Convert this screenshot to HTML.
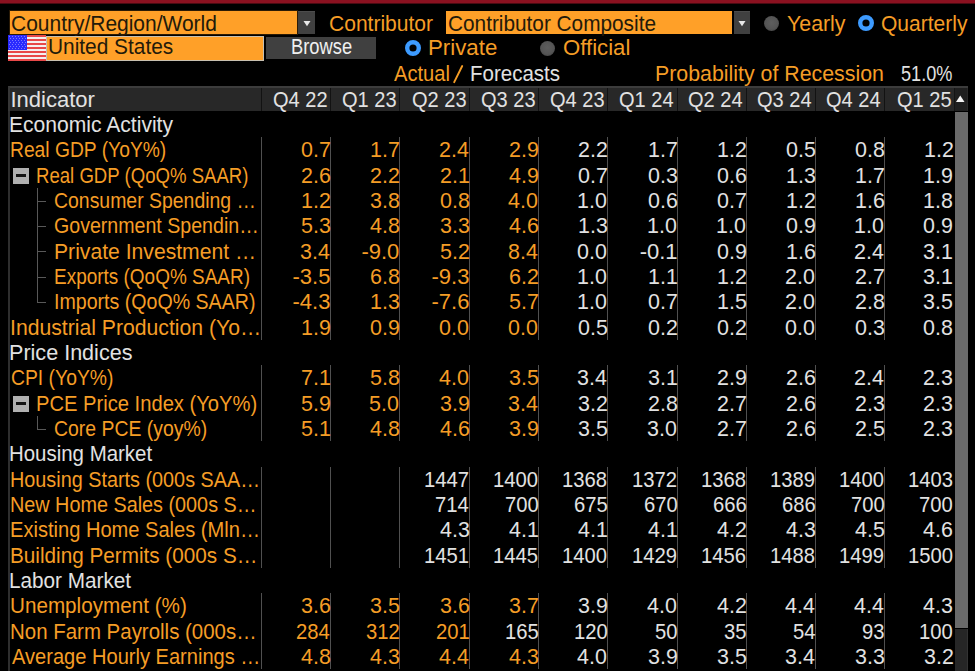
<!DOCTYPE html>
<html><head><meta charset="utf-8"><style>
html,body{margin:0;padding:0;background:#000;width:975px;height:671px;overflow:hidden}
body{position:relative;font-family:"Liberation Sans",sans-serif}
.t{position:absolute;white-space:pre;line-height:1;transform-origin:0 0}
.r{position:absolute}
</style></head><body>
<div class="r" style="left:0px;top:0px;width:975px;height:3px;background:#8a1120"></div>
<div class="r" style="left:0px;top:3px;width:975px;height:1px;background:#4a0a12"></div>
<div class="r" style="left:10px;top:11px;width:287px;height:23px;background:#ffa028;box-shadow:0 0 0 1px #2a1a05"></div>
<div class="t" style="left:11.45px;top:13.00px;font-size:22px;color:#231a0a;transform:scaleX(0.9531);">Country/Region/World</div>
<div class="r" style="left:298px;top:11px;width:17px;height:23px;background:#404040;border-top:1px solid #4c4c4c;box-sizing:border-box"></div>
<svg class="r" style="left:302px;top:19px" width="10" height="8"><path d="M1.5 2 L8.5 2 L5 7.3 Z" fill="#e8e8e8"/></svg>
<div class="t" style="left:328.95px;top:13.00px;font-size:22px;color:#f59d26;transform:scaleX(0.9557);">Contributor</div>
<div class="r" style="left:446px;top:11px;width:286px;height:23px;background:#ffa028"></div>
<div class="t" style="left:447.96px;top:13.00px;font-size:22px;color:#231a0a;transform:scaleX(0.9449);">Contributor Composite</div>
<div class="r" style="left:734px;top:11px;width:16px;height:23px;background:#404040;border-top:1px solid #4c4c4c;box-sizing:border-box"></div>
<svg class="r" style="left:737px;top:19px" width="10" height="8"><path d="M1.5 2 L8.5 2 L5 7.3 Z" fill="#e8e8e8"/></svg>
<div class="r" style="left:764px;top:16px;width:15px;height:15px;border-radius:50%;background:radial-gradient(circle at 50% 45%,#5e5e5e 0,#555 55%,#3a3a3a 100%)"></div>
<div class="t" style="left:787.47px;top:13.00px;font-size:22px;color:#f59d26;transform:scaleX(0.9693);">Yearly</div>
<svg class="r" style="left:858px;top:15px" width="16" height="16"><circle cx="8" cy="8" r="5.8" fill="none" stroke="#3d9bff" stroke-width="4.4"/></svg>
<div class="t" style="left:880.55px;top:13.00px;font-size:22px;color:#f59d26;transform:scaleX(0.9561);">Quarterly</div>
<svg class="r" style="left:8px;top:35px" width="38" height="26"><rect x="0" y="0" width="38" height="2" fill="#e84848"/><rect x="0" y="2" width="38" height="2" fill="#f4f0f0"/><rect x="0" y="4" width="38" height="2" fill="#e84848"/><rect x="0" y="6" width="38" height="2" fill="#f4f0f0"/><rect x="0" y="8" width="38" height="2" fill="#e84848"/><rect x="0" y="10" width="38" height="2" fill="#f4f0f0"/><rect x="0" y="12" width="38" height="2" fill="#e84848"/><rect x="0" y="14" width="38" height="2" fill="#f4f0f0"/><rect x="0" y="16" width="38" height="2" fill="#e84848"/><rect x="0" y="18" width="38" height="2" fill="#f4f0f0"/><rect x="0" y="20" width="38" height="2" fill="#e84848"/><rect x="0" y="22" width="38" height="2" fill="#f4f0f0"/><rect x="0" y="24" width="38" height="2" fill="#e84848"/><rect x="0" y="0" width="19" height="15" fill="#2a2aff"/><rect x="1" y="1" width="1" height="1" fill="#7a7aff"/><rect x="4" y="1" width="1" height="1" fill="#7a7aff"/><rect x="7" y="1" width="1" height="1" fill="#7a7aff"/><rect x="10" y="1" width="1" height="1" fill="#7a7aff"/><rect x="13" y="1" width="1" height="1" fill="#7a7aff"/><rect x="16" y="1" width="1" height="1" fill="#7a7aff"/><rect x="2" y="3" width="1" height="1" fill="#7a7aff"/><rect x="5" y="3" width="1" height="1" fill="#7a7aff"/><rect x="8" y="3" width="1" height="1" fill="#7a7aff"/><rect x="11" y="3" width="1" height="1" fill="#7a7aff"/><rect x="14" y="3" width="1" height="1" fill="#7a7aff"/><rect x="17" y="3" width="1" height="1" fill="#7a7aff"/><rect x="1" y="5" width="1" height="1" fill="#7a7aff"/><rect x="4" y="5" width="1" height="1" fill="#7a7aff"/><rect x="7" y="5" width="1" height="1" fill="#7a7aff"/><rect x="10" y="5" width="1" height="1" fill="#7a7aff"/><rect x="13" y="5" width="1" height="1" fill="#7a7aff"/><rect x="16" y="5" width="1" height="1" fill="#7a7aff"/><rect x="2" y="7" width="1" height="1" fill="#7a7aff"/><rect x="5" y="7" width="1" height="1" fill="#7a7aff"/><rect x="8" y="7" width="1" height="1" fill="#7a7aff"/><rect x="11" y="7" width="1" height="1" fill="#7a7aff"/><rect x="14" y="7" width="1" height="1" fill="#7a7aff"/><rect x="17" y="7" width="1" height="1" fill="#7a7aff"/><rect x="1" y="9" width="1" height="1" fill="#7a7aff"/><rect x="4" y="9" width="1" height="1" fill="#7a7aff"/><rect x="7" y="9" width="1" height="1" fill="#7a7aff"/><rect x="10" y="9" width="1" height="1" fill="#7a7aff"/><rect x="13" y="9" width="1" height="1" fill="#7a7aff"/><rect x="16" y="9" width="1" height="1" fill="#7a7aff"/><rect x="2" y="11" width="1" height="1" fill="#7a7aff"/><rect x="5" y="11" width="1" height="1" fill="#7a7aff"/><rect x="8" y="11" width="1" height="1" fill="#7a7aff"/><rect x="11" y="11" width="1" height="1" fill="#7a7aff"/><rect x="14" y="11" width="1" height="1" fill="#7a7aff"/><rect x="17" y="11" width="1" height="1" fill="#7a7aff"/><rect x="1" y="13" width="1" height="1" fill="#7a7aff"/><rect x="4" y="13" width="1" height="1" fill="#7a7aff"/><rect x="7" y="13" width="1" height="1" fill="#7a7aff"/><rect x="10" y="13" width="1" height="1" fill="#7a7aff"/><rect x="13" y="13" width="1" height="1" fill="#7a7aff"/><rect x="16" y="13" width="1" height="1" fill="#7a7aff"/></svg>
<div class="r" style="left:46px;top:36px;width:218px;height:25px;background:#ffa028;box-shadow:inset 0 0 0 1px #c8c0b0"></div>
<div class="t" style="left:48.44px;top:36.00px;font-size:22px;color:#231a0a;transform:scaleX(0.9484);">United States</div>
<div class="r" style="left:266px;top:37px;width:110px;height:22px;background:#404040"></div>
<div class="t" style="left:290.53px;top:36.00px;font-size:22px;color:#f0f0f0;transform:scaleX(0.8326);">Browse</div>
<svg class="r" style="left:405px;top:40px" width="16" height="16"><circle cx="8" cy="8" r="5.8" fill="none" stroke="#3d9bff" stroke-width="4.4"/></svg>
<div class="t" style="left:427.72px;top:37.00px;font-size:22px;color:#f59d26;transform:scaleX(1.0126);">Private</div>
<div class="r" style="left:540px;top:41px;width:15px;height:15px;border-radius:50%;background:radial-gradient(circle at 50% 45%,#5e5e5e 0,#555 55%,#3a3a3a 100%)"></div>
<div class="t" style="left:563.00px;top:37.00px;font-size:22px;color:#f59d26;transform:scaleX(1.0070);">Official</div>
<div class="t" style="left:394.20px;top:63.00px;font-size:22px;color:#f59d26;transform:scaleX(0.9141);">Actual</div>
<svg class="r" style="left:450px;top:62px" width="16" height="24"><line x1="4.2" y1="20.2" x2="12.2" y2="4" stroke="#f59d26" stroke-width="1.9" stroke-linecap="round"/></svg>
<div class="t" style="left:469.66px;top:63.00px;font-size:22px;color:#e2e2e2;transform:scaleX(0.9325);">Forecasts</div>
<div class="t" style="left:655.29px;top:63.00px;font-size:22px;color:#f59d26;transform:scaleX(0.9697);">Probability of Recession</div>
<div class="t" style="left:901.28px;top:63.00px;font-size:22px;color:#e2e2e2;transform:scaleX(0.8235);">51.0%</div>
<div class="r" style="left:8px;top:86px;width:960px;height:25px;background:#282828;border-top:2px solid #3c3c3c;border-left:2px solid #363636;box-sizing:border-box"></div>
<div class="t" style="left:10.51px;top:89.00px;font-size:22px;color:#e2e2e2;">Indicator</div>
<div class="r" style="left:261px;top:88px;width:1px;height:23px;background:#121212"></div>
<div class="r" style="left:330px;top:88px;width:1px;height:23px;background:#121212"></div>
<div class="r" style="left:399px;top:88px;width:1px;height:23px;background:#121212"></div>
<div class="r" style="left:469px;top:88px;width:1px;height:23px;background:#121212"></div>
<div class="r" style="left:538px;top:88px;width:1px;height:23px;background:#121212"></div>
<div class="r" style="left:607px;top:88px;width:1px;height:23px;background:#121212"></div>
<div class="r" style="left:677px;top:88px;width:1px;height:23px;background:#121212"></div>
<div class="r" style="left:746px;top:88px;width:1px;height:23px;background:#121212"></div>
<div class="r" style="left:815px;top:88px;width:1px;height:23px;background:#121212"></div>
<div class="r" style="left:884px;top:88px;width:1px;height:23px;background:#121212"></div>
<div class="t" style="left:272.95px;top:89.00px;font-size:22px;color:#e2e2e2;transform:scaleX(0.9100);">Q4 22</div>
<div class="t" style="left:341.75px;top:89.00px;font-size:22px;color:#e2e2e2;transform:scaleX(0.9100);">Q1 23</div>
<div class="t" style="left:411.75px;top:89.00px;font-size:22px;color:#e2e2e2;transform:scaleX(0.9100);">Q2 23</div>
<div class="t" style="left:480.75px;top:89.00px;font-size:22px;color:#e2e2e2;transform:scaleX(0.9100);">Q3 23</div>
<div class="t" style="left:549.75px;top:89.00px;font-size:22px;color:#e2e2e2;transform:scaleX(0.9100);">Q4 23</div>
<div class="t" style="left:619.45px;top:89.00px;font-size:22px;color:#e2e2e2;transform:scaleX(0.9100);">Q1 24</div>
<div class="t" style="left:688.45px;top:89.00px;font-size:22px;color:#e2e2e2;transform:scaleX(0.9100);">Q2 24</div>
<div class="t" style="left:757.45px;top:89.00px;font-size:22px;color:#e2e2e2;transform:scaleX(0.9100);">Q3 24</div>
<div class="t" style="left:826.45px;top:89.00px;font-size:22px;color:#e2e2e2;transform:scaleX(0.9100);">Q4 24</div>
<div class="t" style="left:896.75px;top:89.00px;font-size:22px;color:#e2e2e2;transform:scaleX(0.9100);">Q1 25</div>
<div class="r" style="left:954px;top:88px;width:13px;height:23px;background:#1f1f1f;border-left:1px solid #141414;box-sizing:border-box"></div>
<svg class="r" style="left:954px;top:92px" width="13" height="14"><path d="M2 10 L10.5 10 L6.25 3.5 Z" fill="#f4f4f4"/></svg>
<div class="r" style="left:955px;top:112px;width:13px;height:516px;background:#6a6a6a"></div>
<div class="r" style="left:955px;top:629px;width:13px;height:42px;background:#262626;border-right:1px solid #333;box-sizing:border-box"></div>
<div class="r" style="left:8px;top:111px;width:2px;height:560px;background:#2e2e2e"></div>
<div class="r" style="left:330px;top:137px;width:1px;height:203px;background:#505050"></div>
<div class="r" style="left:399px;top:137px;width:1px;height:203px;background:#505050"></div>
<div class="r" style="left:469px;top:137px;width:1px;height:203px;background:#505050"></div>
<div class="r" style="left:538px;top:137px;width:1px;height:203px;background:#505050"></div>
<div class="r" style="left:607px;top:137px;width:1px;height:203px;background:#505050"></div>
<div class="r" style="left:677px;top:137px;width:1px;height:203px;background:#505050"></div>
<div class="r" style="left:746px;top:137px;width:1px;height:203px;background:#505050"></div>
<div class="r" style="left:815px;top:137px;width:1px;height:203px;background:#505050"></div>
<div class="r" style="left:884px;top:137px;width:1px;height:203px;background:#505050"></div>
<div class="r" style="left:261px;top:137px;width:1px;height:203px;background:#505050"></div>
<div class="r" style="left:330px;top:365px;width:1px;height:76px;background:#505050"></div>
<div class="r" style="left:399px;top:365px;width:1px;height:76px;background:#505050"></div>
<div class="r" style="left:469px;top:365px;width:1px;height:76px;background:#505050"></div>
<div class="r" style="left:538px;top:365px;width:1px;height:76px;background:#505050"></div>
<div class="r" style="left:607px;top:365px;width:1px;height:76px;background:#505050"></div>
<div class="r" style="left:677px;top:365px;width:1px;height:76px;background:#505050"></div>
<div class="r" style="left:746px;top:365px;width:1px;height:76px;background:#505050"></div>
<div class="r" style="left:815px;top:365px;width:1px;height:76px;background:#505050"></div>
<div class="r" style="left:884px;top:365px;width:1px;height:76px;background:#505050"></div>
<div class="r" style="left:261px;top:365px;width:1px;height:76px;background:#505050"></div>
<div class="r" style="left:330px;top:467px;width:1px;height:101px;background:#505050"></div>
<div class="r" style="left:399px;top:467px;width:1px;height:101px;background:#505050"></div>
<div class="r" style="left:469px;top:467px;width:1px;height:101px;background:#505050"></div>
<div class="r" style="left:538px;top:467px;width:1px;height:101px;background:#505050"></div>
<div class="r" style="left:607px;top:467px;width:1px;height:101px;background:#505050"></div>
<div class="r" style="left:677px;top:467px;width:1px;height:101px;background:#505050"></div>
<div class="r" style="left:746px;top:467px;width:1px;height:101px;background:#505050"></div>
<div class="r" style="left:815px;top:467px;width:1px;height:101px;background:#505050"></div>
<div class="r" style="left:884px;top:467px;width:1px;height:101px;background:#505050"></div>
<div class="r" style="left:261px;top:467px;width:1px;height:101px;background:#505050"></div>
<div class="r" style="left:330px;top:593px;width:1px;height:76px;background:#505050"></div>
<div class="r" style="left:399px;top:593px;width:1px;height:76px;background:#505050"></div>
<div class="r" style="left:469px;top:593px;width:1px;height:76px;background:#505050"></div>
<div class="r" style="left:538px;top:593px;width:1px;height:76px;background:#505050"></div>
<div class="r" style="left:607px;top:593px;width:1px;height:76px;background:#505050"></div>
<div class="r" style="left:677px;top:593px;width:1px;height:76px;background:#505050"></div>
<div class="r" style="left:746px;top:593px;width:1px;height:76px;background:#505050"></div>
<div class="r" style="left:815px;top:593px;width:1px;height:76px;background:#505050"></div>
<div class="r" style="left:884px;top:593px;width:1px;height:76px;background:#505050"></div>
<div class="r" style="left:261px;top:593px;width:1px;height:76px;background:#505050"></div>
<div class="t" style="left:9.31px;top:114.00px;font-size:22px;color:#e2e2e2;transform:scaleX(0.9581);">Economic Activity</div>
<div class="t" style="left:9.96px;top:139.00px;font-size:22px;color:#f59d26;transform:scaleX(0.8754);">Real GDP (YoY%)</div>
<div class="t" style="left:300.76px;top:139.00px;font-size:22px;color:#f59d26;transform:scaleX(0.9750);">0.7</div>
<div class="t" style="left:369.76px;top:139.00px;font-size:22px;color:#f59d26;transform:scaleX(0.9750);">1.7</div>
<div class="t" style="left:439.22px;top:139.00px;font-size:22px;color:#f59d26;transform:scaleX(0.9750);">2.4</div>
<div class="t" style="left:508.65px;top:139.00px;font-size:22px;color:#f59d26;transform:scaleX(0.9750);">2.9</div>
<div class="t" style="left:577.76px;top:139.00px;font-size:22px;color:#e2e2e2;transform:scaleX(0.9750);">2.2</div>
<div class="t" style="left:647.76px;top:139.00px;font-size:22px;color:#e2e2e2;transform:scaleX(0.9750);">1.7</div>
<div class="t" style="left:716.76px;top:139.00px;font-size:22px;color:#e2e2e2;transform:scaleX(0.9750);">1.2</div>
<div class="t" style="left:785.54px;top:139.00px;font-size:22px;color:#e2e2e2;transform:scaleX(0.9750);">0.5</div>
<div class="t" style="left:854.54px;top:139.00px;font-size:22px;color:#e2e2e2;transform:scaleX(0.9750);">0.8</div>
<div class="t" style="left:923.56px;top:139.00px;font-size:22px;color:#e2e2e2;transform:scaleX(0.9750);">1.2</div>
<div class="r" style="left:13px;top:168px;width:16px;height:16px;background:#b0b0b0"></div>
<div class="r" style="left:16px;top:174px;width:10px;height:3px;background:#141414"></div>
<div class="t" style="left:35.71px;top:165.00px;font-size:22px;color:#f59d26;transform:scaleX(0.8450);">Real GDP (QoQ% SAAR)</div>
<div class="t" style="left:300.54px;top:165.00px;font-size:22px;color:#f59d26;transform:scaleX(0.9750);">2.6</div>
<div class="t" style="left:369.76px;top:165.00px;font-size:22px;color:#f59d26;transform:scaleX(0.9750);">2.2</div>
<div class="t" style="left:439.65px;top:165.00px;font-size:22px;color:#f59d26;transform:scaleX(0.9750);">2.1</div>
<div class="t" style="left:508.65px;top:165.00px;font-size:22px;color:#f59d26;transform:scaleX(0.9750);">4.9</div>
<div class="t" style="left:577.76px;top:165.00px;font-size:22px;color:#e2e2e2;transform:scaleX(0.9750);">0.7</div>
<div class="t" style="left:647.54px;top:165.00px;font-size:22px;color:#e2e2e2;transform:scaleX(0.9750);">0.3</div>
<div class="t" style="left:716.54px;top:165.00px;font-size:22px;color:#e2e2e2;transform:scaleX(0.9750);">0.6</div>
<div class="t" style="left:785.54px;top:165.00px;font-size:22px;color:#e2e2e2;transform:scaleX(0.9750);">1.3</div>
<div class="t" style="left:854.76px;top:165.00px;font-size:22px;color:#e2e2e2;transform:scaleX(0.9750);">1.7</div>
<div class="t" style="left:923.45px;top:165.00px;font-size:22px;color:#e2e2e2;transform:scaleX(0.9750);">1.9</div>
<div class="r" style="left:37px;top:188px;width:1px;height:115px;background:#585858"></div>
<div class="r" style="left:37px;top:201px;width:9px;height:1px;background:#585858"></div>
<div class="t" style="left:54.43px;top:190.00px;font-size:22px;color:#f59d26;transform:scaleX(0.8833);">Consumer Spending …</div>
<div class="t" style="left:300.76px;top:190.00px;font-size:22px;color:#f59d26;transform:scaleX(0.9750);">1.2</div>
<div class="t" style="left:369.54px;top:190.00px;font-size:22px;color:#f59d26;transform:scaleX(0.9750);">3.8</div>
<div class="t" style="left:439.54px;top:190.00px;font-size:22px;color:#f59d26;transform:scaleX(0.9750);">0.8</div>
<div class="t" style="left:508.44px;top:190.00px;font-size:22px;color:#f59d26;transform:scaleX(0.9750);">4.0</div>
<div class="t" style="left:577.44px;top:190.00px;font-size:22px;color:#e2e2e2;transform:scaleX(0.9750);">1.0</div>
<div class="t" style="left:647.54px;top:190.00px;font-size:22px;color:#e2e2e2;transform:scaleX(0.9750);">0.6</div>
<div class="t" style="left:716.76px;top:190.00px;font-size:22px;color:#e2e2e2;transform:scaleX(0.9750);">0.7</div>
<div class="t" style="left:785.76px;top:190.00px;font-size:22px;color:#e2e2e2;transform:scaleX(0.9750);">1.2</div>
<div class="t" style="left:854.54px;top:190.00px;font-size:22px;color:#e2e2e2;transform:scaleX(0.9750);">1.6</div>
<div class="t" style="left:923.34px;top:190.00px;font-size:22px;color:#e2e2e2;transform:scaleX(0.9750);">1.8</div>
<div class="r" style="left:37px;top:226px;width:9px;height:1px;background:#585858"></div>
<div class="t" style="left:54.42px;top:215.00px;font-size:22px;color:#f59d26;transform:scaleX(0.8905);">Government Spendin…</div>
<div class="t" style="left:300.54px;top:215.00px;font-size:22px;color:#f59d26;transform:scaleX(0.9750);">5.3</div>
<div class="t" style="left:369.54px;top:215.00px;font-size:22px;color:#f59d26;transform:scaleX(0.9750);">4.8</div>
<div class="t" style="left:439.54px;top:215.00px;font-size:22px;color:#f59d26;transform:scaleX(0.9750);">3.3</div>
<div class="t" style="left:508.54px;top:215.00px;font-size:22px;color:#f59d26;transform:scaleX(0.9750);">4.6</div>
<div class="t" style="left:577.54px;top:215.00px;font-size:22px;color:#e2e2e2;transform:scaleX(0.9750);">1.3</div>
<div class="t" style="left:647.44px;top:215.00px;font-size:22px;color:#e2e2e2;transform:scaleX(0.9750);">1.0</div>
<div class="t" style="left:716.44px;top:215.00px;font-size:22px;color:#e2e2e2;transform:scaleX(0.9750);">1.0</div>
<div class="t" style="left:785.65px;top:215.00px;font-size:22px;color:#e2e2e2;transform:scaleX(0.9750);">0.9</div>
<div class="t" style="left:854.44px;top:215.00px;font-size:22px;color:#e2e2e2;transform:scaleX(0.9750);">1.0</div>
<div class="t" style="left:923.45px;top:215.00px;font-size:22px;color:#e2e2e2;transform:scaleX(0.9750);">0.9</div>
<div class="r" style="left:37px;top:251px;width:9px;height:1px;background:#585858"></div>
<div class="t" style="left:53.71px;top:241.00px;font-size:22px;color:#f59d26;transform:scaleX(0.9611);">Private Investment …</div>
<div class="t" style="left:300.22px;top:241.00px;font-size:22px;color:#f59d26;transform:scaleX(0.9750);">3.4</div>
<div class="t" style="left:361.43px;top:241.00px;font-size:22px;color:#f59d26;">-9.0</div>
<div class="t" style="left:439.76px;top:241.00px;font-size:22px;color:#f59d26;transform:scaleX(0.9750);">5.2</div>
<div class="t" style="left:508.22px;top:241.00px;font-size:22px;color:#f59d26;transform:scaleX(0.9750);">8.4</div>
<div class="t" style="left:577.44px;top:241.00px;font-size:22px;color:#e2e2e2;transform:scaleX(0.9750);">0.0</div>
<div class="t" style="left:639.65px;top:241.00px;font-size:22px;color:#e2e2e2;">-0.1</div>
<div class="t" style="left:716.65px;top:241.00px;font-size:22px;color:#e2e2e2;transform:scaleX(0.9750);">0.9</div>
<div class="t" style="left:785.54px;top:241.00px;font-size:22px;color:#e2e2e2;transform:scaleX(0.9750);">1.6</div>
<div class="t" style="left:854.22px;top:241.00px;font-size:22px;color:#e2e2e2;transform:scaleX(0.9750);">2.4</div>
<div class="t" style="left:923.45px;top:241.00px;font-size:22px;color:#e2e2e2;transform:scaleX(0.9750);">3.1</div>
<div class="r" style="left:37px;top:277px;width:9px;height:1px;background:#585858"></div>
<div class="t" style="left:53.88px;top:266.00px;font-size:22px;color:#f59d26;transform:scaleX(0.8618);">Exports (QoQ% SAAR)</div>
<div class="t" style="left:292.54px;top:266.00px;font-size:22px;color:#f59d26;">-3.5</div>
<div class="t" style="left:369.54px;top:266.00px;font-size:22px;color:#f59d26;transform:scaleX(0.9750);">6.8</div>
<div class="t" style="left:431.54px;top:266.00px;font-size:22px;color:#f59d26;">-9.3</div>
<div class="t" style="left:508.76px;top:266.00px;font-size:22px;color:#f59d26;transform:scaleX(0.9750);">6.2</div>
<div class="t" style="left:577.44px;top:266.00px;font-size:22px;color:#e2e2e2;transform:scaleX(0.9750);">1.0</div>
<div class="t" style="left:647.65px;top:266.00px;font-size:22px;color:#e2e2e2;transform:scaleX(0.9750);">1.1</div>
<div class="t" style="left:716.76px;top:266.00px;font-size:22px;color:#e2e2e2;transform:scaleX(0.9750);">1.2</div>
<div class="t" style="left:785.44px;top:266.00px;font-size:22px;color:#e2e2e2;transform:scaleX(0.9750);">2.0</div>
<div class="t" style="left:854.76px;top:266.00px;font-size:22px;color:#e2e2e2;transform:scaleX(0.9750);">2.7</div>
<div class="t" style="left:923.45px;top:266.00px;font-size:22px;color:#e2e2e2;transform:scaleX(0.9750);">3.1</div>
<div class="r" style="left:37px;top:302px;width:9px;height:1px;background:#585858"></div>
<div class="t" style="left:53.64px;top:291.00px;font-size:22px;color:#f59d26;transform:scaleX(0.8907);">Imports (QoQ% SAAR)</div>
<div class="t" style="left:292.54px;top:291.00px;font-size:22px;color:#f59d26;">-4.3</div>
<div class="t" style="left:369.54px;top:291.00px;font-size:22px;color:#f59d26;transform:scaleX(0.9750);">1.3</div>
<div class="t" style="left:431.54px;top:291.00px;font-size:22px;color:#f59d26;">-7.6</div>
<div class="t" style="left:508.76px;top:291.00px;font-size:22px;color:#f59d26;transform:scaleX(0.9750);">5.7</div>
<div class="t" style="left:577.44px;top:291.00px;font-size:22px;color:#e2e2e2;transform:scaleX(0.9750);">1.0</div>
<div class="t" style="left:647.76px;top:291.00px;font-size:22px;color:#e2e2e2;transform:scaleX(0.9750);">0.7</div>
<div class="t" style="left:716.54px;top:291.00px;font-size:22px;color:#e2e2e2;transform:scaleX(0.9750);">1.5</div>
<div class="t" style="left:785.44px;top:291.00px;font-size:22px;color:#e2e2e2;transform:scaleX(0.9750);">2.0</div>
<div class="t" style="left:854.54px;top:291.00px;font-size:22px;color:#e2e2e2;transform:scaleX(0.9750);">2.8</div>
<div class="t" style="left:923.34px;top:291.00px;font-size:22px;color:#e2e2e2;transform:scaleX(0.9750);">3.5</div>
<div class="t" style="left:9.59px;top:317.00px;font-size:22px;color:#f59d26;transform:scaleX(0.9626);">Industrial Production (Yo…</div>
<div class="t" style="left:300.65px;top:317.00px;font-size:22px;color:#f59d26;transform:scaleX(0.9750);">1.9</div>
<div class="t" style="left:369.65px;top:317.00px;font-size:22px;color:#f59d26;transform:scaleX(0.9750);">0.9</div>
<div class="t" style="left:439.44px;top:317.00px;font-size:22px;color:#f59d26;transform:scaleX(0.9750);">0.0</div>
<div class="t" style="left:508.44px;top:317.00px;font-size:22px;color:#f59d26;transform:scaleX(0.9750);">0.0</div>
<div class="t" style="left:577.54px;top:317.00px;font-size:22px;color:#e2e2e2;transform:scaleX(0.9750);">0.5</div>
<div class="t" style="left:647.76px;top:317.00px;font-size:22px;color:#e2e2e2;transform:scaleX(0.9750);">0.2</div>
<div class="t" style="left:716.76px;top:317.00px;font-size:22px;color:#e2e2e2;transform:scaleX(0.9750);">0.2</div>
<div class="t" style="left:785.44px;top:317.00px;font-size:22px;color:#e2e2e2;transform:scaleX(0.9750);">0.0</div>
<div class="t" style="left:854.54px;top:317.00px;font-size:22px;color:#e2e2e2;transform:scaleX(0.9750);">0.3</div>
<div class="t" style="left:923.34px;top:317.00px;font-size:22px;color:#e2e2e2;transform:scaleX(0.9750);">0.8</div>
<div class="t" style="left:9.27px;top:342.00px;font-size:22px;color:#e2e2e2;transform:scaleX(0.9804);">Price Indices</div>
<div class="t" style="left:10.53px;top:367.00px;font-size:22px;color:#f59d26;transform:scaleX(0.8784);">CPI (YoY%)</div>
<div class="t" style="left:300.65px;top:367.00px;font-size:22px;color:#f59d26;transform:scaleX(0.9750);">7.1</div>
<div class="t" style="left:369.54px;top:367.00px;font-size:22px;color:#f59d26;transform:scaleX(0.9750);">5.8</div>
<div class="t" style="left:439.44px;top:367.00px;font-size:22px;color:#f59d26;transform:scaleX(0.9750);">4.0</div>
<div class="t" style="left:508.54px;top:367.00px;font-size:22px;color:#f59d26;transform:scaleX(0.9750);">3.5</div>
<div class="t" style="left:577.22px;top:367.00px;font-size:22px;color:#e2e2e2;transform:scaleX(0.9750);">3.4</div>
<div class="t" style="left:647.65px;top:367.00px;font-size:22px;color:#e2e2e2;transform:scaleX(0.9750);">3.1</div>
<div class="t" style="left:716.65px;top:367.00px;font-size:22px;color:#e2e2e2;transform:scaleX(0.9750);">2.9</div>
<div class="t" style="left:785.54px;top:367.00px;font-size:22px;color:#e2e2e2;transform:scaleX(0.9750);">2.6</div>
<div class="t" style="left:854.22px;top:367.00px;font-size:22px;color:#e2e2e2;transform:scaleX(0.9750);">2.4</div>
<div class="t" style="left:923.34px;top:367.00px;font-size:22px;color:#e2e2e2;transform:scaleX(0.9750);">2.3</div>
<div class="r" style="left:13px;top:396px;width:16px;height:16px;background:#b0b0b0"></div>
<div class="r" style="left:16px;top:402px;width:10px;height:3px;background:#141414"></div>
<div class="t" style="left:35.59px;top:393.00px;font-size:22px;color:#f59d26;transform:scaleX(0.9166);">PCE Price Index (YoY%)</div>
<div class="t" style="left:300.65px;top:393.00px;font-size:22px;color:#f59d26;transform:scaleX(0.9750);">5.9</div>
<div class="t" style="left:369.44px;top:393.00px;font-size:22px;color:#f59d26;transform:scaleX(0.9750);">5.0</div>
<div class="t" style="left:439.65px;top:393.00px;font-size:22px;color:#f59d26;transform:scaleX(0.9750);">3.9</div>
<div class="t" style="left:508.22px;top:393.00px;font-size:22px;color:#f59d26;transform:scaleX(0.9750);">3.4</div>
<div class="t" style="left:577.76px;top:393.00px;font-size:22px;color:#e2e2e2;transform:scaleX(0.9750);">3.2</div>
<div class="t" style="left:647.54px;top:393.00px;font-size:22px;color:#e2e2e2;transform:scaleX(0.9750);">2.8</div>
<div class="t" style="left:716.76px;top:393.00px;font-size:22px;color:#e2e2e2;transform:scaleX(0.9750);">2.7</div>
<div class="t" style="left:785.54px;top:393.00px;font-size:22px;color:#e2e2e2;transform:scaleX(0.9750);">2.6</div>
<div class="t" style="left:854.54px;top:393.00px;font-size:22px;color:#e2e2e2;transform:scaleX(0.9750);">2.3</div>
<div class="t" style="left:923.34px;top:393.00px;font-size:22px;color:#e2e2e2;transform:scaleX(0.9750);">2.3</div>
<div class="r" style="left:37px;top:416px;width:1px;height:14px;background:#585858"></div>
<div class="r" style="left:37px;top:429px;width:9px;height:1px;background:#585858"></div>
<div class="t" style="left:54.43px;top:418.00px;font-size:22px;color:#f59d26;transform:scaleX(0.8822);">Core PCE (yoy%)</div>
<div class="t" style="left:300.65px;top:418.00px;font-size:22px;color:#f59d26;transform:scaleX(0.9750);">5.1</div>
<div class="t" style="left:369.54px;top:418.00px;font-size:22px;color:#f59d26;transform:scaleX(0.9750);">4.8</div>
<div class="t" style="left:439.54px;top:418.00px;font-size:22px;color:#f59d26;transform:scaleX(0.9750);">4.6</div>
<div class="t" style="left:508.65px;top:418.00px;font-size:22px;color:#f59d26;transform:scaleX(0.9750);">3.9</div>
<div class="t" style="left:577.54px;top:418.00px;font-size:22px;color:#e2e2e2;transform:scaleX(0.9750);">3.5</div>
<div class="t" style="left:647.44px;top:418.00px;font-size:22px;color:#e2e2e2;transform:scaleX(0.9750);">3.0</div>
<div class="t" style="left:716.76px;top:418.00px;font-size:22px;color:#e2e2e2;transform:scaleX(0.9750);">2.7</div>
<div class="t" style="left:785.54px;top:418.00px;font-size:22px;color:#e2e2e2;transform:scaleX(0.9750);">2.6</div>
<div class="t" style="left:854.54px;top:418.00px;font-size:22px;color:#e2e2e2;transform:scaleX(0.9750);">2.5</div>
<div class="t" style="left:923.34px;top:418.00px;font-size:22px;color:#e2e2e2;transform:scaleX(0.9750);">2.3</div>
<div class="t" style="left:9.37px;top:443.00px;font-size:22px;color:#e2e2e2;transform:scaleX(0.9288);">Housing Market</div>
<div class="t" style="left:9.91px;top:469.00px;font-size:22px;color:#f59d26;transform:scaleX(0.9007);">Housing Starts (000s SAA…</div>
<div class="t" style="left:424.48px;top:469.00px;font-size:22px;color:#e2e2e2;transform:scaleX(0.9200);">1447</div>
<div class="t" style="left:493.17px;top:469.00px;font-size:22px;color:#e2e2e2;transform:scaleX(0.9200);">1400</div>
<div class="t" style="left:562.28px;top:469.00px;font-size:22px;color:#e2e2e2;transform:scaleX(0.9200);">1368</div>
<div class="t" style="left:632.48px;top:469.00px;font-size:22px;color:#e2e2e2;transform:scaleX(0.9200);">1372</div>
<div class="t" style="left:701.28px;top:469.00px;font-size:22px;color:#e2e2e2;transform:scaleX(0.9200);">1368</div>
<div class="t" style="left:770.38px;top:469.00px;font-size:22px;color:#e2e2e2;transform:scaleX(0.9200);">1389</div>
<div class="t" style="left:839.17px;top:469.00px;font-size:22px;color:#e2e2e2;transform:scaleX(0.9200);">1400</div>
<div class="t" style="left:908.08px;top:469.00px;font-size:22px;color:#e2e2e2;transform:scaleX(0.9200);">1403</div>
<div class="t" style="left:9.92px;top:494.00px;font-size:22px;color:#f59d26;transform:scaleX(0.9002);">New Home Sales (000s S…</div>
<div class="t" style="left:435.31px;top:494.00px;font-size:22px;color:#e2e2e2;transform:scaleX(0.9200);">714</div>
<div class="t" style="left:504.51px;top:494.00px;font-size:22px;color:#e2e2e2;transform:scaleX(0.9200);">700</div>
<div class="t" style="left:573.61px;top:494.00px;font-size:22px;color:#e2e2e2;transform:scaleX(0.9200);">675</div>
<div class="t" style="left:643.51px;top:494.00px;font-size:22px;color:#e2e2e2;transform:scaleX(0.9200);">670</div>
<div class="t" style="left:712.61px;top:494.00px;font-size:22px;color:#e2e2e2;transform:scaleX(0.9200);">666</div>
<div class="t" style="left:781.61px;top:494.00px;font-size:22px;color:#e2e2e2;transform:scaleX(0.9200);">686</div>
<div class="t" style="left:850.51px;top:494.00px;font-size:22px;color:#e2e2e2;transform:scaleX(0.9200);">700</div>
<div class="t" style="left:919.31px;top:494.00px;font-size:22px;color:#e2e2e2;transform:scaleX(0.9200);">700</div>
<div class="t" style="left:9.89px;top:519.00px;font-size:22px;color:#f59d26;transform:scaleX(0.9128);">Existing Home Sales (Mln…</div>
<div class="t" style="left:439.54px;top:519.00px;font-size:22px;color:#e2e2e2;transform:scaleX(0.9750);">4.3</div>
<div class="t" style="left:508.65px;top:519.00px;font-size:22px;color:#e2e2e2;transform:scaleX(0.9750);">4.1</div>
<div class="t" style="left:577.65px;top:519.00px;font-size:22px;color:#e2e2e2;transform:scaleX(0.9750);">4.1</div>
<div class="t" style="left:647.65px;top:519.00px;font-size:22px;color:#e2e2e2;transform:scaleX(0.9750);">4.1</div>
<div class="t" style="left:716.76px;top:519.00px;font-size:22px;color:#e2e2e2;transform:scaleX(0.9750);">4.2</div>
<div class="t" style="left:785.54px;top:519.00px;font-size:22px;color:#e2e2e2;transform:scaleX(0.9750);">4.3</div>
<div class="t" style="left:854.54px;top:519.00px;font-size:22px;color:#e2e2e2;transform:scaleX(0.9750);">4.5</div>
<div class="t" style="left:923.34px;top:519.00px;font-size:22px;color:#e2e2e2;transform:scaleX(0.9750);">4.6</div>
<div class="t" style="left:9.84px;top:545.00px;font-size:22px;color:#f59d26;transform:scaleX(0.9412);">Building Permits (000s S…</div>
<div class="t" style="left:424.38px;top:545.00px;font-size:22px;color:#e2e2e2;transform:scaleX(0.9200);">1451</div>
<div class="t" style="left:493.28px;top:545.00px;font-size:22px;color:#e2e2e2;transform:scaleX(0.9200);">1445</div>
<div class="t" style="left:562.17px;top:545.00px;font-size:22px;color:#e2e2e2;transform:scaleX(0.9200);">1400</div>
<div class="t" style="left:632.38px;top:545.00px;font-size:22px;color:#e2e2e2;transform:scaleX(0.9200);">1429</div>
<div class="t" style="left:701.28px;top:545.00px;font-size:22px;color:#e2e2e2;transform:scaleX(0.9200);">1456</div>
<div class="t" style="left:770.28px;top:545.00px;font-size:22px;color:#e2e2e2;transform:scaleX(0.9200);">1488</div>
<div class="t" style="left:839.38px;top:545.00px;font-size:22px;color:#e2e2e2;transform:scaleX(0.9200);">1499</div>
<div class="t" style="left:907.97px;top:545.00px;font-size:22px;color:#e2e2e2;transform:scaleX(0.9200);">1500</div>
<div class="t" style="left:9.34px;top:570.00px;font-size:22px;color:#e2e2e2;transform:scaleX(0.9420);">Labor Market</div>
<div class="t" style="left:9.95px;top:595.00px;font-size:22px;color:#f59d26;transform:scaleX(0.9388);">Unemployment (%)</div>
<div class="t" style="left:300.54px;top:595.00px;font-size:22px;color:#f59d26;transform:scaleX(0.9750);">3.6</div>
<div class="t" style="left:369.54px;top:595.00px;font-size:22px;color:#f59d26;transform:scaleX(0.9750);">3.5</div>
<div class="t" style="left:439.54px;top:595.00px;font-size:22px;color:#f59d26;transform:scaleX(0.9750);">3.6</div>
<div class="t" style="left:508.76px;top:595.00px;font-size:22px;color:#f59d26;transform:scaleX(0.9750);">3.7</div>
<div class="t" style="left:577.65px;top:595.00px;font-size:22px;color:#e2e2e2;transform:scaleX(0.9750);">3.9</div>
<div class="t" style="left:647.44px;top:595.00px;font-size:22px;color:#e2e2e2;transform:scaleX(0.9750);">4.0</div>
<div class="t" style="left:716.76px;top:595.00px;font-size:22px;color:#e2e2e2;transform:scaleX(0.9750);">4.2</div>
<div class="t" style="left:785.22px;top:595.00px;font-size:22px;color:#e2e2e2;transform:scaleX(0.9750);">4.4</div>
<div class="t" style="left:854.22px;top:595.00px;font-size:22px;color:#e2e2e2;transform:scaleX(0.9750);">4.4</div>
<div class="t" style="left:923.34px;top:595.00px;font-size:22px;color:#e2e2e2;transform:scaleX(0.9750);">4.3</div>
<div class="t" style="left:9.86px;top:621.00px;font-size:22px;color:#f59d26;transform:scaleX(0.9298);">Non Farm Payrolls (000s…</div>
<div class="t" style="left:296.31px;top:621.00px;font-size:22px;color:#f59d26;transform:scaleX(0.9200);">284</div>
<div class="t" style="left:365.81px;top:621.00px;font-size:22px;color:#f59d26;transform:scaleX(0.9200);">312</div>
<div class="t" style="left:435.71px;top:621.00px;font-size:22px;color:#f59d26;transform:scaleX(0.9200);">201</div>
<div class="t" style="left:504.61px;top:621.00px;font-size:22px;color:#e2e2e2;transform:scaleX(0.9200);">165</div>
<div class="t" style="left:573.51px;top:621.00px;font-size:22px;color:#e2e2e2;transform:scaleX(0.9200);">120</div>
<div class="t" style="left:654.74px;top:621.00px;font-size:22px;color:#e2e2e2;transform:scaleX(0.9200);">50</div>
<div class="t" style="left:723.84px;top:621.00px;font-size:22px;color:#e2e2e2;transform:scaleX(0.9200);">35</div>
<div class="t" style="left:792.54px;top:621.00px;font-size:22px;color:#e2e2e2;transform:scaleX(0.9200);">54</div>
<div class="t" style="left:861.84px;top:621.00px;font-size:22px;color:#e2e2e2;transform:scaleX(0.9200);">93</div>
<div class="t" style="left:919.31px;top:621.00px;font-size:22px;color:#e2e2e2;transform:scaleX(0.9200);">100</div>
<div class="t" style="left:11.50px;top:646.00px;font-size:22px;color:#f59d26;transform:scaleX(0.9124);">Average Hourly Earnings …</div>
<div class="t" style="left:300.54px;top:646.00px;font-size:22px;color:#f59d26;transform:scaleX(0.9750);">4.8</div>
<div class="t" style="left:369.54px;top:646.00px;font-size:22px;color:#f59d26;transform:scaleX(0.9750);">4.3</div>
<div class="t" style="left:439.22px;top:646.00px;font-size:22px;color:#f59d26;transform:scaleX(0.9750);">4.4</div>
<div class="t" style="left:508.54px;top:646.00px;font-size:22px;color:#f59d26;transform:scaleX(0.9750);">4.3</div>
<div class="t" style="left:577.44px;top:646.00px;font-size:22px;color:#e2e2e2;transform:scaleX(0.9750);">4.0</div>
<div class="t" style="left:647.65px;top:646.00px;font-size:22px;color:#e2e2e2;transform:scaleX(0.9750);">3.9</div>
<div class="t" style="left:716.54px;top:646.00px;font-size:22px;color:#e2e2e2;transform:scaleX(0.9750);">3.5</div>
<div class="t" style="left:785.22px;top:646.00px;font-size:22px;color:#e2e2e2;transform:scaleX(0.9750);">3.4</div>
<div class="t" style="left:854.54px;top:646.00px;font-size:22px;color:#e2e2e2;transform:scaleX(0.9750);">3.3</div>
<div class="t" style="left:923.56px;top:646.00px;font-size:22px;color:#e2e2e2;transform:scaleX(0.9750);">3.2</div>
</body></html>
